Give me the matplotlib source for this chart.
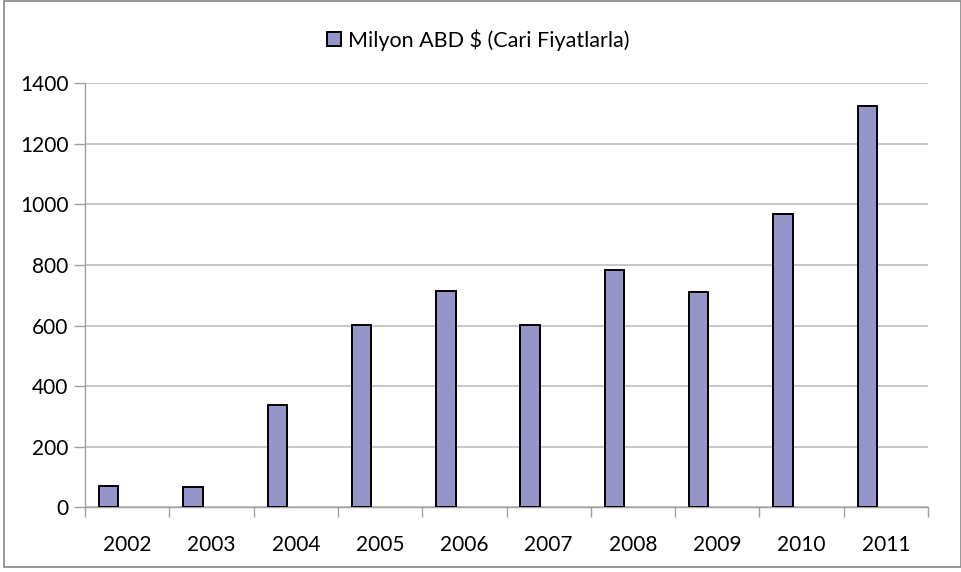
import matplotlib.pyplot as plt
from matplotlib.patches import Rectangle
import numpy as np

plt.rcParams['font.family'] = ['Lato', 'DejaVu Sans']

years = ['2002', '2003', '2004', '2005', '2006', '2007', '2008', '2009', '2010', '2011']
values = [72, 66, 338, 603, 715, 603, 782, 710, 967, 1323]
series_name = 'Milyon ABD $ (Cari Fiyatlarla)'

bar_color = '#9595C9'
grid_color = '#BDBDBD'
axis_color = '#A0A0A0'

fig = plt.figure(figsize=(9.62, 5.72), dpi=100)
ax = fig.add_axes([0.0884, 0.1128, 0.8763, 0.7421])

# outer chart border
fig.patches.append(Rectangle((0.004, 0.009), 0.995, 0.99, transform=fig.transFigure,
                             fill=False, edgecolor='#868686', linewidth=1.2))

x = np.arange(len(years))
ax.bar(x + 0.165, values, width=0.23, align='edge', color=bar_color,
       edgecolor='black', linewidth=1.4, label=series_name, zorder=3)

ax.set_xlim(0, len(years))
ax.set_ylim(0, 1400)
ax.set_yticks(np.arange(0, 1401, 200))
ax.yaxis.grid(True, color=grid_color, linewidth=1.2, zorder=0)

# category boundaries as major ticks, year labels in the middle
ax.set_xticks(np.arange(0, len(years) + 1))
ax.set_xticklabels([])
ax.set_xticks(x + 0.5, minor=True)
ax.set_xticklabels(years, minor=True)
ax.tick_params(axis='x', which='minor', length=0, pad=20, labelsize=15)
ax.tick_params(axis='x', which='major', length=7, color=axis_color, width=1.0)
ax.tick_params(axis='y', length=8, color=axis_color, width=1.0, pad=4, labelsize=15)

for side in ['top', 'right']:
    ax.spines[side].set_visible(False)
for side in ['left', 'bottom']:
    ax.spines[side].set_color(axis_color)
    ax.spines[side].set_linewidth(1.0)

fig.legend(loc='center', bbox_to_anchor=(0.497, 0.93), frameon=False, fontsize=15.5,
           handlelength=0.65, handleheight=0.65, handletextpad=0.3)

fig.savefig('out.png', dpi=100)
